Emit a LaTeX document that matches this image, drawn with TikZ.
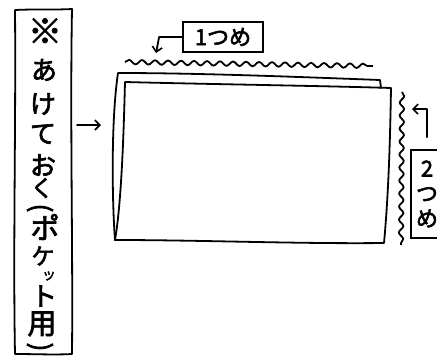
\documentclass[tikz,border=0pt]{standalone}
\usepackage{fontspec}
\setmainfont[FakeBold=2.5,AutoFakeBold=2.5]{Noto Sans CJK JP}
\usetikzlibrary{arrows.meta,decorations.pathmorphing}
\tikzset{
  sk/.style={line width=1.8pt, line cap=round, line join=round, black},
  tipline/.style={sk, -{Straight Barb[length=5pt,width=10pt,line width=1.6pt]}},
  wave/.style={line width=1.8pt, decorate, decoration={snake, amplitude=2.2pt, segment length=13pt}},
  vch/.style={inner sep=0pt, font=\fontsize{26}{26}\selectfont\bfseries},
  lbl/.style={draw, line width=1.8pt, inner sep=2pt, font=\fontsize{22}{25}\selectfont\bfseries}
}
\begin{document}
\begin{tikzpicture}[x=1pt,y=-1pt]
\useasboundingbox (0,0) rectangle (437,356);
% left tall box
\draw[sk] (15,10) .. controls (35,9) and (55,10) .. (72,9)
  .. controls (70,120) and (73,250) .. (72,354)
  .. controls (55,355) and (35,354) .. (15,354)
  .. controls (13,250) and (16,120) .. (15,10) -- cycle;
\node[vch, font=\fontsize{34}{34}\selectfont\bfseries] (c1) at (45,31) {※};
\node[vch] (c2) at (44,70) {あ};
\node[vch] (c3) at (43,104) {け};
\node[vch] (c4) at (43,134) {て};
\node[vch] (c5) at (43,165) {お};
\node[vch, font=\fontsize{23}{23}\selectfont\bfseries] (c6) at (42,188) {く};
\node[vch, rotate=-90, font=\fontsize{26}{26}\selectfont\bfseries] (c7) at (40,208) {(};
\node[vch, font=\fontsize{29}{29}\selectfont\bfseries] (c8) at (45,227) {ポ};
\node[vch, font=\fontsize{23}{23}\selectfont\bfseries] (c9) at (43,256) {ケ};
\node[vch, font=\fontsize{14}{14}\selectfont\bfseries] (c10) at (49,276) {ッ};
\node[vch] (c11) at (44,296) {ト};
\node[vch, font=\fontsize{29}{29}\selectfont\bfseries] (c12) at (42,324) {用};
\node[vch, rotate=-90, font=\fontsize{26}{26}\selectfont\bfseries] (c13) at (40,347) {)};
% arrow into sheet
\coordinate (aS) at (77,125);
\coordinate (aE) at (101,125);
\draw[tipline] (aS) -- (aE);
% back sheet
\draw[sk] (381,88) -- (380,80) .. controls (300,77) and (200,73) .. (118,73)
  .. controls (111,120) and (112,200) .. (115,240);
% front sheet
\draw[sk] (115,240) .. controls (122,200) and (124,120) .. (125,82)
  .. controls (200,84) and (330,86) .. (391,88)
  .. controls (390,150) and (388,200) .. (384,243)
  .. controls (300,244) and (200,240) .. (115,240) -- cycle;
% wavy folds
\draw[wave] (125,62) -- (373,66);
\draw[wave] (402,92) -- (401,245);
% label 1
\node[lbl, minimum width=80pt, minimum height=30pt] (one) at (223,37) {1つめ};
\draw[tipline] (one.west) -- ++(-23,0) -- ++(-3,16);
% label 2
\node[lbl, minimum width=32pt, minimum height=88pt, align=center] (two) at (427,194) {2\\つ\\め};
\draw[tipline] ([yshift=12pt]two.north) |- ++(-15,-28);
\end{tikzpicture}
\end{document}
